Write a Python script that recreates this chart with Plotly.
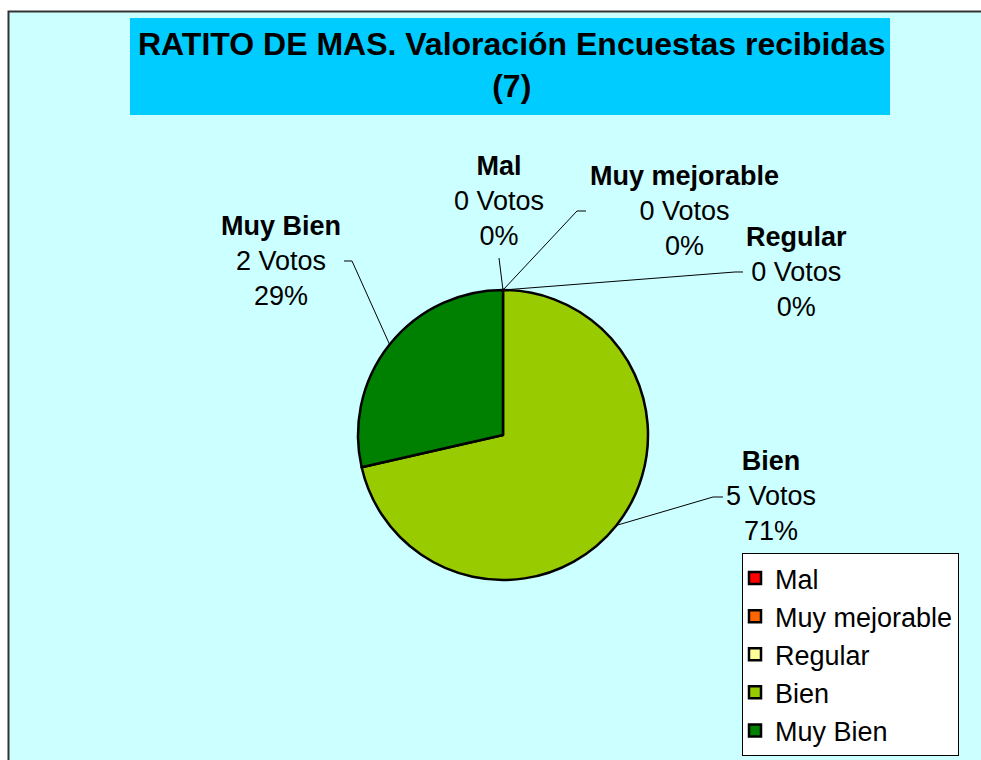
import math
import plotly.graph_objects as go

# ---- data ----
categories = ["Mal", "Muy mejorable", "Regular", "Bien", "Muy Bien"]
votes = [0, 0, 0, 5, 2]
title_lines = ["RATITO DE MAS. Valoración Encuestas recibidas", "(7)"]
colors = ["#FF0000", "#FF6600", "#FFFF99", "#99CC00", "#008000"]

# ---- layout (pixel geometry of the 981x760 canvas) ----
W, H = 981, 760
CX, CY, R = 503, 435, 145
FONT = "Liberation Sans, Arial, sans-serif"

# label centre (x, y of middle line) and leader elbow/end points in px
label_layout = {
    "Mal": dict(pos=(499, 201), path=[(499, 258)]),
    "Muy mejorable": dict(pos=(684, 211), path=[(577, 211), (586, 211)]),
    "Regular": dict(pos=(796, 272), path=[(735, 272), (743, 272)]),
    "Bien": dict(pos=(771, 496), path=[(713, 497), (723, 497)]),
    "Muy Bien": dict(pos=(281, 261), path=[(352, 261), (344, 261)]),
}


def px(x):
    return x / W


def py(y):
    return 1 - y / H


fig = go.Figure()
fig.add_trace(go.Pie(
    labels=categories,
    values=votes,
    sort=False,
    direction="clockwise",
    rotation=0,
    textinfo="none",
    hoverinfo="label+value+percent",
    marker=dict(colors=colors, line=dict(color="black", width=2.5)),
    domain=dict(x=[px(CX - R), px(CX + R)], y=[py(CY + R), py(CY - R)]),
    showlegend=True,
))

shapes = [
    # chart area with border
    dict(type="rect", xref="paper", yref="paper", x0=px(8.5), x1=1.05,
         y0=-0.05, y1=py(11.5), fillcolor="#CCFFFF",
         line=dict(color="#333333", width=2), layer="below"),
    # title box
    dict(type="rect", xref="paper", yref="paper", x0=px(130), x1=px(890),
         y0=py(115), y1=py(18), fillcolor="#00CCFF", line=dict(width=0),
         layer="below"),
]

annotations = [
    dict(text="<b>" + "<br>".join(title_lines) + "</b>", xref="paper",
         yref="paper", x=px(511), y=py(65), xanchor="center",
         yanchor="middle", showarrow=False,
         font=dict(family=FONT, size=32, color="black")),
]

total = sum(votes)
cum = 0
for cat, v in zip(categories, votes):
    frac = v / total
    mid = (cum + frac / 2) * 2 * math.pi
    cum += frac
    ax = CX + R * math.sin(mid)
    ay = CY - R * math.cos(mid)
    lay = label_layout[cat]
    pts = [(ax, ay)] + lay["path"]
    d = "M " + " L ".join(f"{px(x):.5f},{py(y):.5f}" for x, y in pts)
    shapes.append(dict(type="path", xref="paper", yref="paper", path=d,
                       line=dict(color="black", width=1)))
    pct = round(frac * 100)
    lx, ly = lay["pos"]
    annotations.append(dict(
        text=f"<b>{cat}</b><br>{v} Votos<br>{pct}%",
        xref="paper", yref="paper", x=px(lx), y=py(ly),
        xanchor="center", yanchor="middle", showarrow=False, align="center",
        font=dict(family=FONT, size=27, color="black")))

fig.update_layout(
    width=W, height=H,
    margin=dict(l=0, r=0, t=0, b=0),
    paper_bgcolor="white",
    plot_bgcolor="white",
    shapes=shapes,
    annotations=annotations,
    legend=dict(x=px(742), y=py(553), xanchor="left", yanchor="top",
                bgcolor="white", bordercolor="black", borderwidth=1,
                font=dict(family=FONT, size=27, color="black"),
                indentation=-8, traceorder="normal"),
)

fig.write_html(
    "out.html",
    config={"displayModeBar": False},
    post_script="document.body.style.margin='0';document.body.style.overflow='hidden';",
)
